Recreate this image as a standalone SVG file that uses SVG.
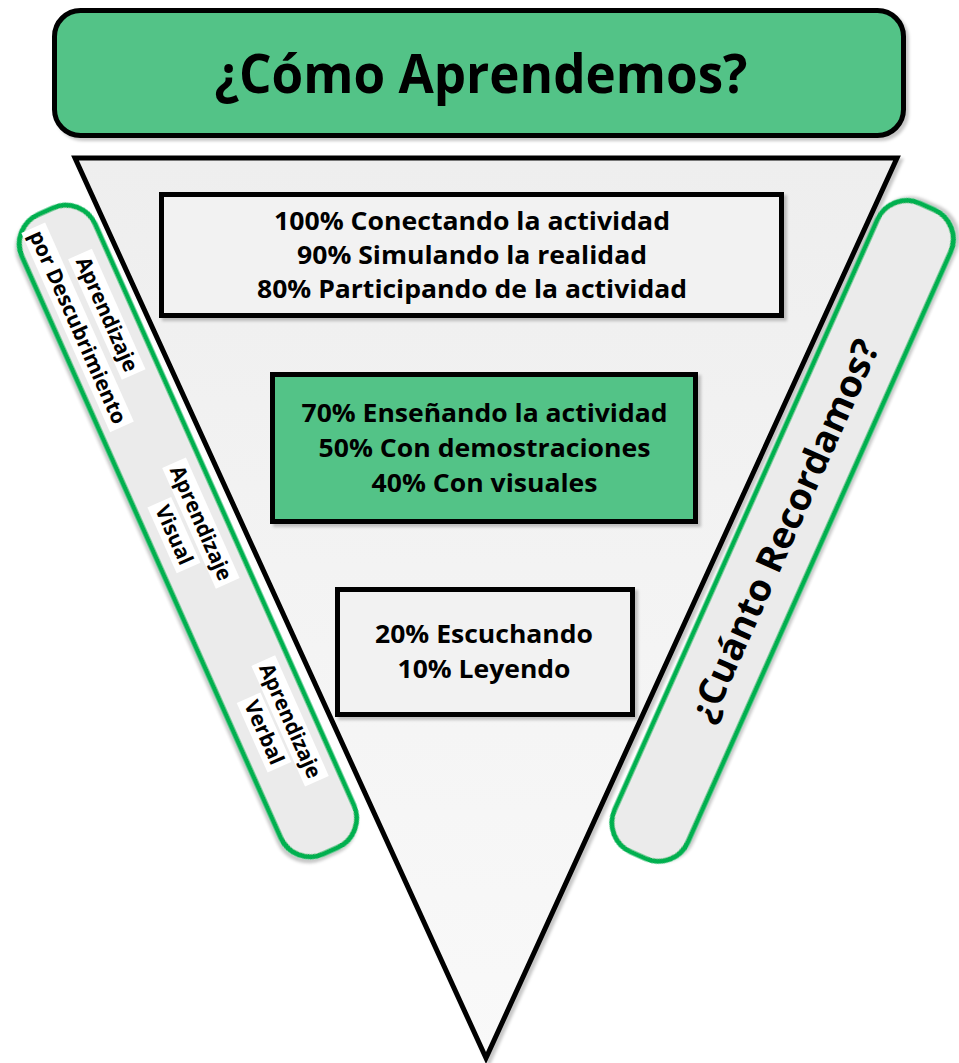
<svg xmlns="http://www.w3.org/2000/svg" width="959" height="1063" viewBox="0 0 959 1063">
<defs>
<linearGradient id="triFill" x1="0" y1="0" x2="0" y2="1">
<stop offset="0" stop-color="#EEEEEE"/>
<stop offset="1" stop-color="#F9F9F9"/>
</linearGradient>
<filter id="shadow" x="-5%" y="-5%" width="115%" height="115%">
<feDropShadow dx="3" dy="3" stdDeviation="1.5" flood-color="#000" flood-opacity="0.22"/>
</filter>
</defs>
<style>
.t{font-family:"Open Sans","Liberation Sans",sans-serif;font-weight:bold;fill:#000;text-anchor:middle}
.box{stroke:#000;stroke-width:5}
.band{fill:#EBEBEB;stroke:#00B050;stroke-width:5}
.bg{fill:#FFFFFF}
</style>
<g id="funnel">
<path d="M75 158 L897 158 L486 1058 Z" fill="url(#triFill)" stroke="#000" stroke-width="5" stroke-linejoin="miter" filter="url(#shadow)"/>
</g>
<g id="connectors"/>
<g id="band-left" transform="translate(188,531) rotate(66)">
<rect class="band" x="-350" y="-40" width="700" height="80" rx="32" filter="url(#shadow)"/>
<rect class="bg" x="-297" y="-27" width="132" height="26"/>
<rect class="bg" x="-340" y="5" width="218" height="26"/>
<text class="t" x="-231" y="-7" font-size="21" textLength="123" lengthAdjust="spacingAndGlyphs">Aprendizaje</text>
<text class="t" x="-231" y="25" font-size="21" textLength="209" lengthAdjust="spacingAndGlyphs">por Descubrimiento</text>
<rect class="bg" x="-68" y="-28" width="132" height="26"/>
<rect class="bg" x="-38" y="1.5" width="72" height="26"/>
<text class="t" x="-2" y="-8" font-size="21" textLength="123" lengthAdjust="spacingAndGlyphs">Aprendizaje</text>
<text class="t" x="-2" y="21.5" font-size="21" textLength="63" lengthAdjust="spacingAndGlyphs">Visual</text>
<rect class="bg" x="149" y="-29" width="132" height="26"/>
<rect class="bg" x="177" y="-0.5" width="76" height="26"/>
<text class="t" x="215" y="-9" font-size="21" textLength="123" lengthAdjust="spacingAndGlyphs">Aprendizaje</text>
<text class="t" x="215" y="19.5" font-size="21" textLength="68" lengthAdjust="spacingAndGlyphs">Verbal</text>
</g>
<g id="band-right" transform="translate(783,530) rotate(-66)">
<rect class="band" x="-356" y="-40" width="710" height="80" rx="32" filter="url(#shadow)"/>
<text class="t" x="0" y="14" font-size="37" textLength="414" lengthAdjust="spacingAndGlyphs">¿Cuánto Recordamos?</text>
</g>
<g id="box-top">
<rect class="box" x="161.5" y="194.5" width="620" height="121" fill="#F2F2F2" filter="url(#shadow)"/>
<text class="t" x="472" y="230" font-size="25" textLength="396" lengthAdjust="spacingAndGlyphs">100% Conectando la actividad</text>
<text class="t" x="472" y="264" font-size="25" textLength="350" lengthAdjust="spacingAndGlyphs">90% Simulando la realidad</text>
<text class="t" x="472" y="298" font-size="25" textLength="430" lengthAdjust="spacingAndGlyphs">80% Participando de la actividad</text>
</g>
<g id="box-middle">
<rect class="box" x="272.5" y="374.5" width="423" height="147" fill="#52C387" filter="url(#shadow)"/>
<text class="t" x="484.5" y="422" font-size="25" textLength="366" lengthAdjust="spacingAndGlyphs">70% Enseñando la actividad</text>
<text class="t" x="484.5" y="457" font-size="25" textLength="332" lengthAdjust="spacingAndGlyphs">50% Con demostraciones</text>
<text class="t" x="484.5" y="492" font-size="25" textLength="226" lengthAdjust="spacingAndGlyphs">40% Con visuales</text>
</g>
<g id="box-bottom">
<rect class="box" x="337.5" y="589.5" width="295" height="125" fill="#F2F2F2" filter="url(#shadow)"/>
<text class="t" x="484" y="643" font-size="25" textLength="218" lengthAdjust="spacingAndGlyphs">20% Escuchando</text>
<text class="t" x="484" y="678" font-size="25" textLength="173" lengthAdjust="spacingAndGlyphs">10% Leyendo</text>
</g>
<g id="title">
<rect x="54.5" y="10.5" width="849" height="125" rx="26" fill="#52C387" stroke="#000" stroke-width="5" filter="url(#shadow)"/>
<text class="t" x="481" y="93" font-size="54" textLength="533" lengthAdjust="spacingAndGlyphs">¿Cómo Aprendemos?</text>
</g>
</svg>
